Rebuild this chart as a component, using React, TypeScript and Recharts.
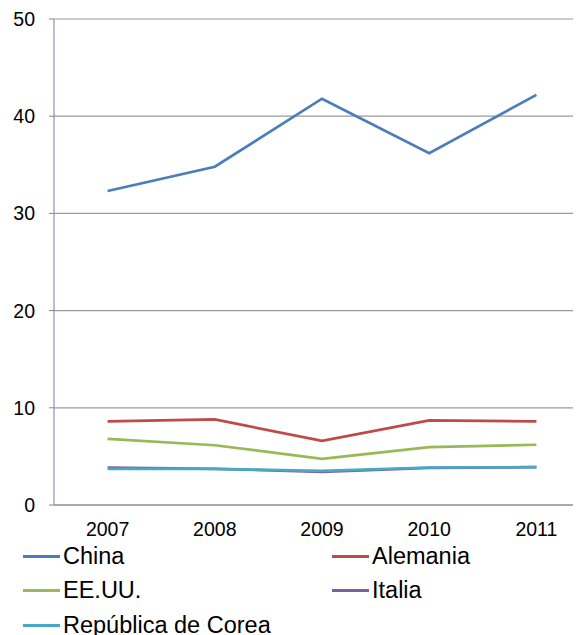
import { LineChart, Line, XAxis, YAxis, CartesianGrid } from 'recharts'

const YEARS = ['2007', '2008', '2009', '2010', '2011']
const CHINA = [32.3, 34.8, 41.8, 36.2, 42.2]
const ALEMANIA = [8.6, 8.8, 6.6, 8.7, 8.6]
const EEUU = [6.8, 6.15, 4.75, 5.95, 6.2]
const ITALIA = [3.86, 3.72, 3.41, 3.82, 3.89]
const COREA = [3.72, 3.72, 3.52, 3.86, 3.89]
const Y_TICKS = [0, 10, 20, 30, 40, 50]
const BOUNDARY_TICKS = [0, 1, 2, 3, 4, 5]

const SERIES = [
  { key: 'china', name: 'China', color: '#4a7ebb', values: CHINA },
  { key: 'alemania', name: 'Alemania', color: '#be4b48', values: ALEMANIA },
  { key: 'eeuu', name: 'EE.UU.', color: '#98b954', values: EEUU },
  { key: 'italia', name: 'Italia', color: '#7d60a0', values: ITALIA },
  { key: 'corea', name: 'República de Corea', color: '#46aac5', values: COREA },
]

const data = YEARS.map((year, i) => {
  const row: Record<string, string | number> = { year }
  SERIES.forEach((s) => {
    row[s.key] = s.values[i]
  })
  return row
})

const FONT = '"Liberation Sans", Arial, sans-serif'

export default function App() {
  return (
    <div style={{ position: 'relative', width: 573, height: 627, overflow: 'hidden', fontFamily: FONT }}>
      <LineChart width={590} height={627} data={data} margin={{ top: 11, right: 8, left: 0, bottom: 90 }}>
        <CartesianGrid vertical={false} stroke="#9a9a9a" strokeWidth={1.2} />
        {/* tick marks between categories */}
        <XAxis
          xAxisId="bounds"
          type="number"
          domain={[0, 5]}
          ticks={BOUNDARY_TICKS}
          tick={false}
          tickSize={6}
          height={0}
          axisLine={false}
          tickLine={{ stroke: '#868686' }}
        />
        <XAxis
          dataKey="year"
          scale="band"
          height={40}
          tickLine={false}
          tickSize={5}
          tickMargin={12}
          axisLine={{ stroke: '#868686', strokeWidth: 1.2 }}
          tick={{ fill: '#000', fontSize: 19.5, fontFamily: FONT }}
        />
        <YAxis
          width={46}
          domain={[0, 50]}
          ticks={Y_TICKS}
          tickSize={5}
          tickMargin={14}
          axisLine={{ stroke: '#8796b0', strokeWidth: 1.2 }}
          tickLine={{ stroke: '#868686' }}
          tick={{ fill: '#000', fontSize: 19.5, fontFamily: FONT }}
        />
        {SERIES.map((s) => (
          <Line
            key={s.key}
            dataKey={s.key}
            name={s.name}
            stroke={s.color}
            strokeWidth={2.7}
            dot={false}
            isAnimationActive={false}
          />
        ))}
      </LineChart>
      <div
        style={{
          position: 'absolute',
          left: 15,
          top: 531,
          display: 'grid',
          gridTemplateColumns: '309px 250px',
          gridAutoRows: '34.5px',
          fontSize: 23.5,
          color: '#000',
        }}
      >
        {SERIES.map((s) => (
          <div key={s.key} style={{ display: 'flex', alignItems: 'center', whiteSpace: 'nowrap' }}>
            <span style={{ display: 'inline-block', width: 37, height: 3, background: s.color, marginRight: 3 }} />
            <span>{s.name}</span>
          </div>
        ))}
      </div>
    </div>
  )
}
